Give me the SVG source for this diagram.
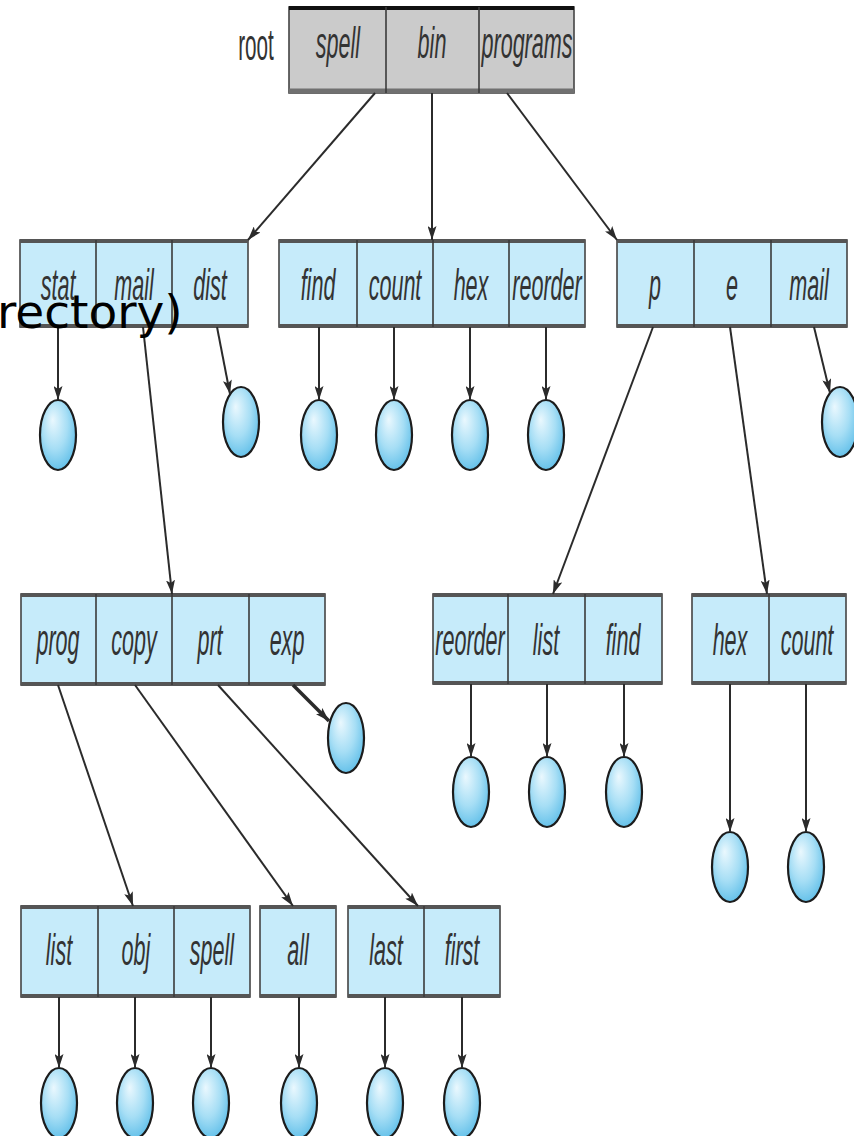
<svg xmlns="http://www.w3.org/2000/svg" width="854" height="1136" viewBox="0 0 854 1136">
  <defs>
    <marker id="arrow" viewBox="0 0 14 9" refX="14" refY="4.5" markerWidth="14" markerHeight="9" markerUnits="userSpaceOnUse" orient="auto">
      <path d="M0,0 L14,4.5 L0,9 L3,4.5 z" fill="#2b2b2b"/>
    </marker>
    <radialGradient id="fileFill" cx="0.45" cy="0.4" r="0.65" fx="0.35" fy="0.28">
      <stop offset="0" stop-color="#eaf8fe"/>
      <stop offset="0.55" stop-color="#a6def5"/>
      <stop offset="1" stop-color="#5cbde8"/>
    </radialGradient>
    <style>
      .dir { fill: #c6ebfa; stroke: #444; stroke-width: 1.6; }
      .rootbox { fill: #cbcbcb; stroke: #444; stroke-width: 1.6; }
      .band { stroke: #555; stroke-width: 4; fill: none; }
      .div { stroke: #3a3a3a; stroke-width: 1.6; }
      .lbl { font-family: "Liberation Sans", Arial, sans-serif; font-style: italic; font-size: 44px; fill: #333; text-anchor: middle; }
      .plain { font-family: "Liberation Sans", Arial, sans-serif; font-size: 44px; fill: #333; text-anchor: middle; }
      .file { fill: url(#fileFill); stroke: #1c1c1c; stroke-width: 2.2; }
      .conn line { stroke: #2b2b2b; stroke-width: 2; fill: none; marker-end: url(#arrow); }
      .caption { font-family: "DejaVu Sans", Verdana, sans-serif; font-size: 47px; fill: #000; }
    </style>
  </defs>

  <rect width="854" height="1136" fill="#ffffff"/>

  <!-- root directory -->
  <g id="root">
    <text class="plain" transform="translate(256,60) scale(0.47,1)">root</text>
    <rect class="rootbox" x="289" y="7" width="285" height="86"/>
    <line x1="289" y1="8" x2="574" y2="8" stroke="#111" stroke-width="4"/>
    <line x1="289" y1="91" x2="574" y2="91" stroke="#707070" stroke-width="5"/>
    <line class="div" x1="386" y1="7" x2="386" y2="93"/>
    <line class="div" x1="479" y1="7" x2="479" y2="93"/>
    <text class="lbl" transform="translate(338,58) scale(0.49,1)">spell</text>
    <text class="lbl" transform="translate(432,58) scale(0.49,1)">bin</text>
    <text class="lbl" transform="translate(527,58) scale(0.49,1)">programs</text>
  </g>

  <!-- spell directory -->
  <g id="dir-spell">
    <rect class="dir" x="20" y="240" width="228" height="87"/>
    <line class="band" x1="20" y1="241" x2="248" y2="241"/>
    <line class="band" x1="20" y1="326" x2="248" y2="326"/>
    <line class="div" x1="96" y1="240" x2="96" y2="327"/>
    <line class="div" x1="172" y1="240" x2="172" y2="327"/>
    <text class="lbl" transform="translate(58,300) scale(0.49,1)">stat</text>
    <text class="lbl" transform="translate(134,300) scale(0.49,1)">mail</text>
    <text class="lbl" transform="translate(210,300) scale(0.49,1)">dist</text>
  </g>

  <!-- bin directory -->
  <g id="dir-bin">
    <rect class="dir" x="279" y="240" width="306" height="87"/>
    <line class="band" x1="279" y1="241" x2="585" y2="241"/>
    <line class="band" x1="279" y1="326" x2="585" y2="326"/>
    <line class="div" x1="357" y1="240" x2="357" y2="327"/>
    <line class="div" x1="433" y1="240" x2="433" y2="327"/>
    <line class="div" x1="509" y1="240" x2="509" y2="327"/>
    <text class="lbl" transform="translate(318,300) scale(0.49,1)">find</text>
    <text class="lbl" transform="translate(395,300) scale(0.49,1)">count</text>
    <text class="lbl" transform="translate(471,300) scale(0.49,1)">hex</text>
    <text class="lbl" transform="translate(547,300) scale(0.49,1)">reorder</text>
  </g>

  <!-- programs directory -->
  <g id="dir-programs">
    <rect class="dir" x="617" y="240" width="230" height="87"/>
    <line class="band" x1="617" y1="241" x2="847" y2="241"/>
    <line class="band" x1="617" y1="326" x2="847" y2="326"/>
    <line class="div" x1="694" y1="240" x2="694" y2="327"/>
    <line class="div" x1="771" y1="240" x2="771" y2="327"/>
    <text class="lbl" transform="translate(655,300) scale(0.49,1)">p</text>
    <text class="lbl" transform="translate(732,300) scale(0.49,1)">e</text>
    <text class="lbl" transform="translate(809,300) scale(0.49,1)">mail</text>
  </g>

  <!-- mail directory -->
  <g id="dir-mail">
    <rect class="dir" x="21" y="594" width="304" height="91"/>
    <line class="band" x1="21" y1="595" x2="325" y2="595"/>
    <line class="band" x1="21" y1="684" x2="325" y2="684"/>
    <line class="div" x1="96" y1="594" x2="96" y2="685"/>
    <line class="div" x1="172" y1="594" x2="172" y2="685"/>
    <line class="div" x1="249" y1="594" x2="249" y2="685"/>
    <text class="lbl" transform="translate(58,655) scale(0.49,1)">prog</text>
    <text class="lbl" transform="translate(134,655) scale(0.49,1)">copy</text>
    <text class="lbl" transform="translate(210,655) scale(0.49,1)">prt</text>
    <text class="lbl" transform="translate(287,655) scale(0.49,1)">exp</text>
  </g>

  <!-- p directory -->
  <g id="dir-p">
    <rect class="dir" x="433" y="594" width="229" height="90"/>
    <line class="band" x1="433" y1="595" x2="662" y2="595"/>
    <line class="band" x1="433" y1="683" x2="662" y2="683"/>
    <line class="div" x1="508" y1="594" x2="508" y2="684"/>
    <line class="div" x1="585" y1="594" x2="585" y2="684"/>
    <text class="lbl" transform="translate(470,655) scale(0.49,1)">reorder</text>
    <text class="lbl" transform="translate(546,655) scale(0.49,1)">list</text>
    <text class="lbl" transform="translate(623,655) scale(0.49,1)">find</text>
  </g>

  <!-- e directory -->
  <g id="dir-e">
    <rect class="dir" x="692" y="594" width="154" height="90"/>
    <line class="band" x1="692" y1="595" x2="846" y2="595"/>
    <line class="band" x1="692" y1="683" x2="846" y2="683"/>
    <line class="div" x1="769" y1="594" x2="769" y2="684"/>
    <text class="lbl" transform="translate(730,655) scale(0.49,1)">hex</text>
    <text class="lbl" transform="translate(807,655) scale(0.49,1)">count</text>
  </g>

  <!-- prog directory -->
  <g id="dir-prog">
    <rect class="dir" x="21" y="906" width="229" height="91"/>
    <line class="band" x1="21" y1="907" x2="250" y2="907"/>
    <line class="band" x1="21" y1="996" x2="250" y2="996"/>
    <line class="div" x1="98" y1="906" x2="98" y2="997"/>
    <line class="div" x1="174" y1="906" x2="174" y2="997"/>
    <text class="lbl" transform="translate(59,965) scale(0.49,1)">list</text>
    <text class="lbl" transform="translate(136,965) scale(0.49,1)">obj</text>
    <text class="lbl" transform="translate(212,965) scale(0.49,1)">spell</text>
  </g>

  <!-- copy directory -->
  <g id="dir-copy">
    <rect class="dir" x="260" y="906" width="76" height="91"/>
    <line class="band" x1="260" y1="907" x2="336" y2="907"/>
    <line class="band" x1="260" y1="996" x2="336" y2="996"/>
    <text class="lbl" transform="translate(298,965) scale(0.49,1)">all</text>
  </g>

  <!-- prt directory -->
  <g id="dir-prt">
    <rect class="dir" x="348" y="906" width="152" height="91"/>
    <line class="band" x1="348" y1="907" x2="500" y2="907"/>
    <line class="band" x1="348" y1="996" x2="500" y2="996"/>
    <line class="div" x1="424" y1="906" x2="424" y2="997"/>
    <text class="lbl" transform="translate(386,965) scale(0.49,1)">last</text>
    <text class="lbl" transform="translate(462,965) scale(0.49,1)">first</text>
  </g>

  <!-- plain files -->
  <g id="file-stat"><ellipse class="file" cx="58" cy="435" rx="18" ry="35"/></g>
  <g id="file-dist"><ellipse class="file" cx="241" cy="422" rx="18" ry="35"/></g>
  <g id="file-find"><ellipse class="file" cx="319" cy="435" rx="18" ry="35"/></g>
  <g id="file-count"><ellipse class="file" cx="394" cy="435" rx="18" ry="35"/></g>
  <g id="file-hex"><ellipse class="file" cx="470" cy="435" rx="18" ry="35"/></g>
  <g id="file-reorder"><ellipse class="file" cx="546" cy="435" rx="18" ry="35"/></g>
  <g id="file-programs-mail"><ellipse class="file" cx="840" cy="422" rx="18" ry="35"/></g>
  <g id="file-exp"><ellipse class="file" cx="346" cy="738" rx="18" ry="35"/></g>
  <g id="file-p-reorder"><ellipse class="file" cx="471" cy="792" rx="18" ry="35"/></g>
  <g id="file-p-list"><ellipse class="file" cx="547" cy="792" rx="18" ry="35"/></g>
  <g id="file-p-find"><ellipse class="file" cx="624" cy="792" rx="18" ry="35"/></g>
  <g id="file-e-hex"><ellipse class="file" cx="730" cy="867" rx="18" ry="35"/></g>
  <g id="file-e-count"><ellipse class="file" cx="806" cy="867" rx="18" ry="35"/></g>
  <g id="file-list"><ellipse class="file" cx="59" cy="1103" rx="18" ry="35"/></g>
  <g id="file-obj"><ellipse class="file" cx="135" cy="1103" rx="18" ry="35"/></g>
  <g id="file-spell"><ellipse class="file" cx="211" cy="1103" rx="18" ry="35"/></g>
  <g id="file-all"><ellipse class="file" cx="299" cy="1103" rx="18" ry="35"/></g>
  <g id="file-last"><ellipse class="file" cx="385" cy="1103" rx="18" ry="35"/></g>
  <g id="file-first"><ellipse class="file" cx="462" cy="1103" rx="18" ry="35"/></g>

  <!-- connectors -->
  <g id="connectors" class="conn">
    <line x1="375" y1="93" x2="248" y2="240"/>
    <line x1="432" y1="93" x2="432" y2="240"/>
    <line x1="507" y1="93" x2="617" y2="240"/>

    <line x1="58" y1="327" x2="58" y2="400"/>
    <line x1="143" y1="327" x2="172" y2="594"/>
    <line x1="217" y1="327" x2="230" y2="394"/>

    <line x1="319" y1="327" x2="319" y2="400"/>
    <line x1="394" y1="327" x2="394" y2="400"/>
    <line x1="470" y1="327" x2="470" y2="400"/>
    <line x1="546" y1="327" x2="546" y2="400"/>

    <line x1="653" y1="327" x2="553" y2="594"/>
    <line x1="730" y1="327" x2="767" y2="594"/>
    <line x1="814" y1="327" x2="830" y2="393"/>

    <line x1="58" y1="685" x2="133" y2="906"/>
    <line x1="135" y1="685" x2="293" y2="906"/>
    <line x1="218" y1="685" x2="418" y2="906"/>
    <line x1="293" y1="685" x2="329" y2="721" style="stroke-width:3.5"/>

    <line x1="471" y1="684" x2="471" y2="757"/>
    <line x1="547" y1="684" x2="547" y2="757"/>
    <line x1="624" y1="684" x2="624" y2="757"/>
    <line x1="730" y1="684" x2="730" y2="832"/>
    <line x1="806" y1="684" x2="806" y2="832"/>

    <line x1="59" y1="997" x2="59" y2="1068"/>
    <line x1="135" y1="997" x2="135" y2="1068"/>
    <line x1="211" y1="997" x2="211" y2="1068"/>
    <line x1="299" y1="997" x2="299" y2="1068"/>
    <line x1="385" y1="997" x2="385" y2="1068"/>
    <line x1="462" y1="997" x2="462" y2="1068"/>
  </g>

  <!-- overlapping caption fragment -->
  <text class="caption" x="-3" y="328">rectory)</text>
</svg>
